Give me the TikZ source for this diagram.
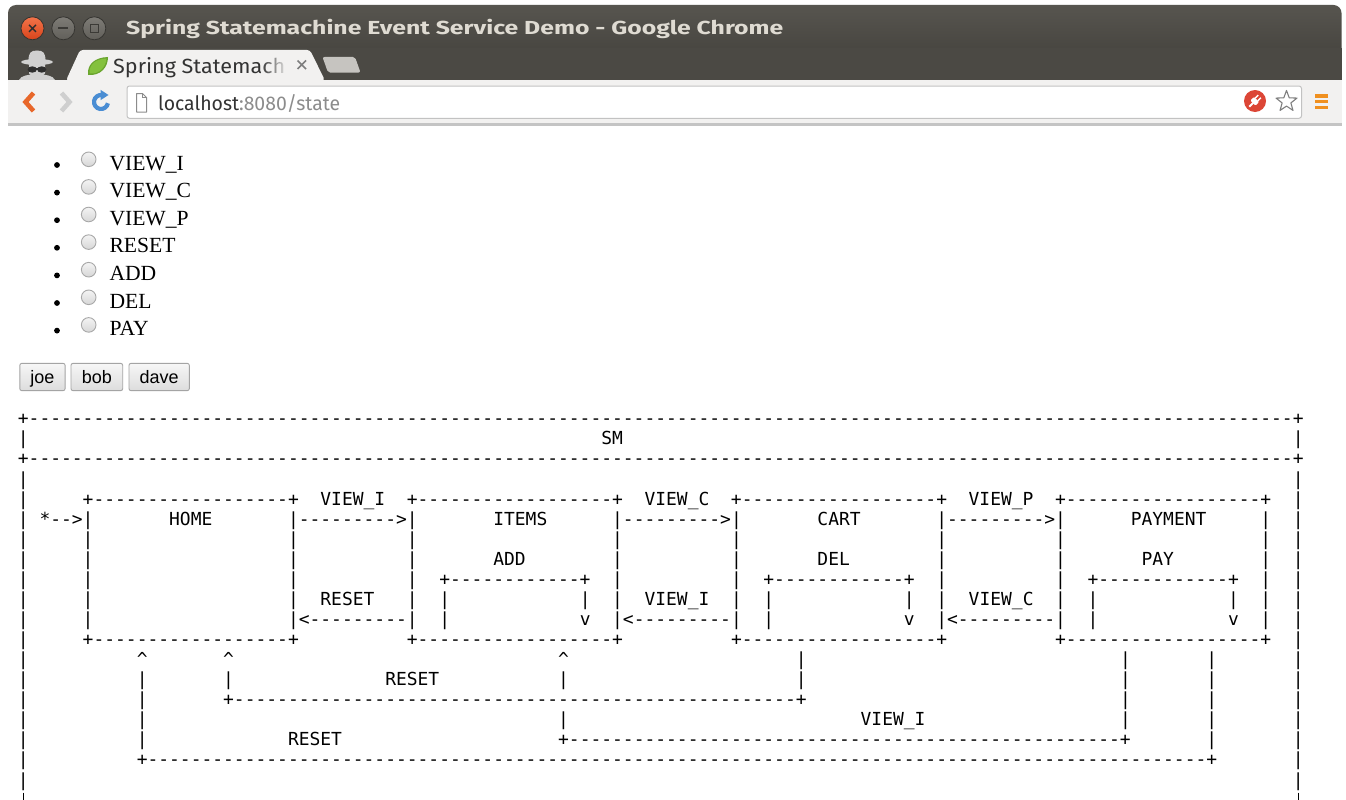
\documentclass[tikz,border=0pt]{standalone}
\usepackage{fontspec}
\setmainfont{Liberation Serif}
\setmonofont{DejaVu Sans Mono}
\newfontfamily\uifont{Fira Sans}
\newfontfamily\btnfont{Liberation Sans}
\newcommand\xrep[2]{\ifnum#1>0 #2\expandafter\xrep\expandafter{\number\numexpr#1-1\relax}{#2}\fi}
\newcommand\bl[1]{\xrep{#1}{\ }}
\newcommand\ds[1]{\xrep{#1}{-}}
\newcommand\bx{+\ds{18}+}
\newcommand\crt{\textasciicircum}
\definecolor{titletop}{HTML}{57554F}
\definecolor{titlebot}{HTML}{44423D}
\definecolor{strip}{HTML}{4B4944}
\definecolor{tabbg}{HTML}{F2F1F0}
\definecolor{toolbg}{HTML}{F2F1F0}
\definecolor{toolline}{HTML}{C4C4C4}
\definecolor{titletext}{HTML}{DFDBD2}
\definecolor{closetop}{HTML}{F2744A}
\definecolor{closebot}{HTML}{D8441B}
\definecolor{wbtop}{HTML}{7E7C76}
\definecolor{wbbot}{HTML}{615F5A}
\definecolor{wbborder}{HTML}{363531}
\definecolor{wbmark}{HTML}{3B3A36}
\definecolor{incog}{HTML}{D0D0D0}
\definecolor{glass}{HTML}{2E2E2E}
\definecolor{leaf}{HTML}{84C13E}
\definecolor{leafdark}{HTML}{6AA52E}
\definecolor{newtab}{HTML}{C6C4C0}
\definecolor{backor}{HTML}{E8672A}
\definecolor{fwdgray}{HTML}{CFCFCF}
\definecolor{reloadblue}{HTML}{4A8DD3}
\definecolor{omniborder}{HTML}{C2C2C2}
\definecolor{urldark}{HTML}{333333}
\definecolor{urlgray}{HTML}{8C8C8C}
\definecolor{plugred}{HTML}{DC4636}
\definecolor{stargray}{HTML}{7E7E7E}
\definecolor{menuor}{HTML}{F0901F}
\definecolor{radioborder}{HTML}{A8A8A8}
\definecolor{radiotop}{HTML}{F4F4F4}
\definecolor{radiobot}{HTML}{D6D6D6}
\definecolor{btnborder}{HTML}{A4A4A4}
\definecolor{btntop}{HTML}{F7F7F7}
\definecolor{btnbot}{HTML}{DCDCDC}
\begin{document}
\begin{tikzpicture}[x=1pt,y=-1pt,
  mono/.style={font=\ttfamily\fontsize{17.947}{20}\selectfont, anchor=base west, inner sep=0pt, outer sep=0pt, text=black},
  item/.style={font=\fontsize{21.6}{26}\selectfont, anchor=base west, inner sep=0pt},
  radio/.style={circle, draw=radioborder, line width=0.9pt, top color=radiotop, bottom color=radiobot, minimum size=14.6pt, inner sep=0pt},
  bullet/.style={circle, fill=black, minimum size=5.8pt, inner sep=0pt},
  btn/.style={draw=btnborder, line width=0.9pt, rounded corners=2pt, top color=btntop, bottom color=btnbot, minimum height=27.3pt, inner sep=0pt, text height=13pt, text depth=0.4pt, font=\btnfont\fontsize{18}{20}\selectfont},
  winbtn/.style={circle, minimum size=23pt, inner sep=0pt, draw=wbborder, line width=0.8pt, top color=wbtop, bottom color=wbbot},
  wmark/.style={draw=wbmark, line width=1.7pt},
  uitext/.style={anchor=base west, inner sep=0pt},
  barstub/.style={draw=black, line width=1.5pt}
]
\useasboundingbox (0,0) rectangle (1346,800);
\clip (0,0) rectangle (1346,800);
\fill[white] (0,0) rectangle (1346,800);

% ---------- window frame / title bar ----------
\shade[top color=titletop, bottom color=titlebot, rounded corners=8pt] (8,5) rectangle (1341.5,62);
\fill[strip] (8,48) rectangle (1341.5,80);

\node[winbtn, top color=closetop, bottom color=closebot, draw=wbborder] (wclose) at (32.5,28.3) {};
\draw[draw=glass, line width=1.4pt] (29,24.8) -- (36,31.8) (29,31.8) -- (36,24.8);
\node[winbtn] (wmin) at (63.3,28.3) {};
\draw[wmark] (58.3,28.3) -- (68.3,28.3);
\node[winbtn] (wmax) at (94.3,28.3) {};
\draw[draw=wbmark, line width=1.5pt] (90.3,24.3) rectangle (98.3,32.3);

\node[uitext, text=titletext] (title) at (126,35)
  {\resizebox{657pt}{15.3pt}{\uifont\bfseries Spring Statemachine Event Service Demo - Google Chrome}};

% incognito figure
\fill[incog] (28.5,61) .. controls (28.5,53) and (30.5,50.5) .. (37,50.5) .. controls (43.5,50.5) and (45.5,53) .. (45.5,61) -- cycle;
\fill[incog] (37,62) ellipse [x radius=16, y radius=3];
\fill[incog, rounded corners=2pt] (29,63) rectangle (45,75);
\fill[glass] (32.3,69.5) ellipse [x radius=4.6, y radius=3.2];
\fill[glass] (41.7,69.5) ellipse [x radius=4.6, y radius=3.2];
\draw[glass, line width=1pt] (35,68.5) -- (39,68.5);
\fill[incog] (19,80) .. controls (21,75.5) and (28,74.5) .. (37,74.5) .. controls (46,74.5) and (53,75.5) .. (55,80) -- cycle;

% tab
\fill[tabbg, rounded corners=3pt] (66,80.5) -- (80,50) -- (310,50) -- (325,80.5) -- cycle;
\fill[leafdark] (88,75) .. controls (87,64) and (95,57.5) .. (108,57) .. controls (108,67) and (101,76) .. (88,75) -- cycle;
\fill[leaf] (89.5,73.5) .. controls (89,64) and (96,59) .. (106.5,58.5) .. controls (106,66) and (100,74.5) .. (89.5,73.5) -- cycle;
\node[uitext, text=urldark] (tabtitle) at (113,73.3)
  {\resizebox{172pt}{16pt}{\uifont Spring Statemach}};
\foreach \i in {0,...,13}
  \fill[tabbg, opacity={(\i+1)/14}] ({262+2*\i},54) rectangle ({264.3+2*\i},79);
\fill[tabbg] (290,54) rectangle (294,79);
\draw[draw=stargray, line width=1.6pt] (297.5,60.5) -- (306,69) (297.5,69) -- (306,60.5);
\fill[newtab, rounded corners=2pt] (322.5,57) -- (355,57) -- (360.5,72.5) -- (328,72.5) -- cycle;

% ---------- toolbar ----------
\fill[toolbg] (8,80) rectangle (1341.5,123);
\fill[toolline] (8,123) rectangle (1341.5,125.5);
\draw[backor, line width=4.6pt, line join=miter] (33.5,93) -- (25.5,102) -- (33.5,111);
\draw[fwdgray, line width=4.6pt, line join=miter] (61.5,93) -- (69.5,102) -- (61.5,111);
\draw[reloadblue, line width=4.2pt] (101,102) ++(-80:7) arc [start angle=-80, end angle=-350, radius=7];
\fill[reloadblue] (100.5,89.8) -- (100.5,100.2) -- (108.5,95) -- cycle;

\node[draw=omniborder, fill=white, rounded corners=2.5pt, line width=1pt, minimum width=1174.5pt, minimum height=32.3pt, inner sep=0pt] (omni) at (714.25,102.15) {};
\draw[draw=urlgray, line width=1pt, line join=round] (136.5,93.5) -- (142.5,93.5) -- (146.5,97.5) -- (146.5,112) -- (136.5,112) -- cycle;
\draw[draw=urlgray, line width=1pt] (142.5,93.5) -- (142.5,97.5) -- (146.5,97.5);
\node[uitext] (url) at (158,110)
  {\resizebox{182pt}{16pt}{\uifont\textcolor{urldark}{localhost}\textcolor{urlgray}{:8080/state}}};

\node[circle, fill=plugred, minimum size=22pt, inner sep=0pt] (plug) at (1255,101) {};
\begin{scope}[shift={(1255,101)}, rotate=45]
  \fill[white, rounded corners=1pt] (-3,-3.6) rectangle (2.2,3.6);
  \fill[white] (2,-2.6) rectangle (6.5,-1.1);
  \fill[white] (2,1.1) rectangle (6.5,2.6);
  \fill[white] (-8,-1) rectangle (-2.5,1);
\end{scope}
\draw[draw=stargray, line width=1.1pt, line join=round, shift={(1286.5,101.5)}]
  (-90:11) -- (-54:4.6) -- (-18:11) -- (18:4.6) -- (54:11) -- (90:4.6) -- (126:11) -- (162:4.6) -- (198:11) -- (234:4.6) -- cycle;
\draw[menuor, line width=3.2pt] (1315,96) -- (1328,96) (1315,101.8) -- (1328,101.8) (1315,107.6) -- (1328,107.6);

% ---------- page: radio list ----------
\node[bullet] (b1) at (57,165) {};
\node[bullet] (b2) at (57,192.6) {};
\node[bullet] (b3) at (57,220.2) {};
\node[bullet] (b4) at (57,247.8) {};
\node[bullet] (b5) at (57,275.4) {};
\node[bullet] (b6) at (57,303) {};
\node[bullet] (b7) at (57,330.6) {};
\node[radio] (rb1) at (88.7,159.3) {};
\node[radio] (rb2) at (88.7,186.9) {};
\node[radio] (rb3) at (88.7,214.5) {};
\node[radio] (rb4) at (88.7,242.1) {};
\node[radio] (rb5) at (88.7,269.7) {};
\node[radio] (rb6) at (88.7,297.3) {};
\node[radio] (rb7) at (88.7,324.9) {};
\node[item] (t1) at (109.3,170) {VIEW\_I};
\node[item] (t2) at (109.3,197.6) {VIEW\_C};
\node[item] (t3) at (109.3,225.2) {VIEW\_P};
\node[item] (t4) at (109.3,252.8) {RESET};
\node[item] (t5) at (109.3,280.4) {ADD};
\node[item] (t6) at (109.3,308) {DEL};
\node[item] (t7) at (109.3,335.6) {PAY};

% ---------- buttons ----------
\node[btn, minimum width=45.3pt] (joe) at (42.45,377) {joe};
\node[btn, minimum width=51.7pt] (bob) at (96.85,377) {bob};
\node[btn, minimum width=60.3pt] (dave) at (159.15,377) {dave};

% ---------- ASCII state machine ----------
\node[mono] (r0) at (17.9,424.8) {+\ds{117}+};
\node[mono] (r1) at (17.9,444.87) {|\bl{53}SM\bl{62}|};
\node[mono] (r2) at (17.9,464.94) {+\ds{117}+};
\node[mono] (r3) at (17.9,485.01) {|\bl{117}|};
\node[mono] (r4) at (17.9,505.08) {|\bl{5}\bx\bl{2}VIEW\_I\bl{2}\bx\bl{2}VIEW\_C\bl{2}\bx\bl{2}VIEW\_P\bl{2}\bx\bl{2}|};
\node[mono] (r5) at (17.9,525.15) {|\ *\ds{2}>|\bl{7}HOME\bl{7}|\ds{9}>|\bl{7}ITEMS\bl{6}|\ds{9}>|\bl{7}CART\bl{7}|\ds{9}>|\bl{6}PAYMENT\bl{5}|\bl{2}|};
\node[mono] (r6) at (17.9,545.22) {|\bl{5}|\bl{18}|\bl{10}|\bl{18}|\bl{10}|\bl{18}|\bl{10}|\bl{18}|\bl{2}|};
\node[mono] (r7) at (17.9,565.29) {|\bl{5}|\bl{18}|\bl{10}|\bl{7}ADD\bl{8}|\bl{10}|\bl{7}DEL\bl{8}|\bl{10}|\bl{7}PAY\bl{8}|\bl{2}|};
\node[mono] (r8) at (17.9,585.36) {|\bl{5}|\bl{18}|\bl{10}|\bl{2}+\ds{12}+\bl{2}|\bl{10}|\bl{2}+\ds{12}+\bl{2}|\bl{10}|\bl{2}+\ds{12}+\bl{2}|\bl{2}|};
\node[mono] (r9) at (17.9,605.43) {|\bl{5}|\bl{18}|\bl{2}RESET\bl{3}|\bl{2}|\bl{12}|\bl{2}|\bl{2}VIEW\_I\bl{2}|\bl{2}|\bl{12}|\bl{2}|\bl{2}VIEW\_C\bl{2}|\bl{2}|\bl{12}|\bl{2}|\bl{2}|};
\node[mono] (r10) at (17.9,625.5) {|\bl{5}|\bl{18}|<\ds{9}|\bl{2}|\bl{12}v\bl{2}|<\ds{9}|\bl{2}|\bl{12}v\bl{2}|<\ds{9}|\bl{2}|\bl{12}v\bl{2}|\bl{2}|};
\node[mono] (r11) at (17.9,645.57) {|\bl{5}\bx\bl{10}\bx\bl{10}\bx\bl{10}\bx\bl{2}|};
\node[mono] (r12) at (17.9,665.64) {|\bl{10}\crt\bl{7}\crt\bl{30}\crt\bl{21}|\bl{29}|\bl{7}|\bl{7}|};
\node[mono] (r13) at (17.9,685.71) {|\bl{10}|\bl{7}|\bl{14}RESET\bl{11}|\bl{21}|\bl{29}|\bl{7}|\bl{7}|};
\node[mono] (r14) at (17.9,705.78) {|\bl{10}|\bl{7}+\ds{52}+\bl{29}|\bl{7}|\bl{7}|};
\node[mono] (r15) at (17.9,725.85) {|\bl{10}|\bl{38}|\bl{27}VIEW\_I\bl{18}|\bl{7}|\bl{7}|};
\node[mono] (r16) at (17.9,745.92) {|\bl{10}|\bl{13}RESET\bl{20}+\ds{51}+\bl{7}|\bl{7}|};
\node[mono] (r17) at (17.9,765.99) {|\bl{10}+\ds{98}+\bl{7}|};
\node[mono] (r18) at (17.9,786.06) {|\bl{117}|};
% the next row of the outer frame, cut by the bottom edge of the window
\coordinate (stubL) at (23.3,792.6);
\coordinate (stubR) at (1298.3,792.6);
\draw[barstub] (stubL) -- ++(0,10);
\draw[barstub] (stubR) -- ++(0,10);
\end{tikzpicture}
\end{document}
